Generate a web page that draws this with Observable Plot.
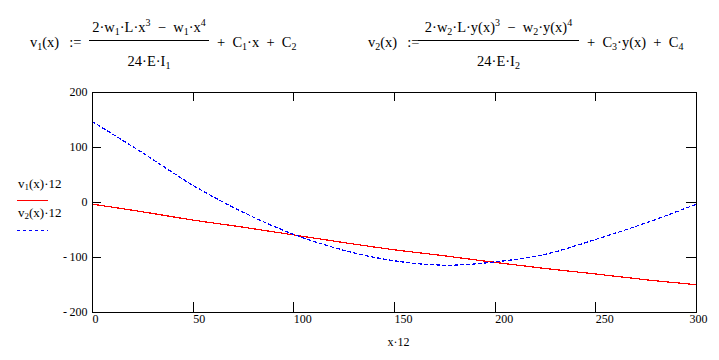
<!DOCTYPE html>
<html><head><meta charset="utf-8">
<script src="https://cdn.jsdelivr.net/npm/d3@7"></script>
<script src="https://cdn.jsdelivr.net/npm/@observablehq/plot@0.6"></script>
<style>
body{margin:0;background:#fff;width:719px;height:360px;overflow:hidden;position:relative;font-family:"Liberation Serif","Times New Roman",serif;color:#000}
.t{position:absolute;white-space:nowrap;font-size:14.5px;line-height:14px}
.s{font-size:10px;position:relative;top:3px}
.p{font-size:10px;position:relative;top:-6px}
.frac{position:absolute;border-top:1px solid #000;height:0}
.num,.den{position:absolute;left:-20px;right:-20px;text-align:center;white-space:nowrap;font-size:14.5px;line-height:14px}
#chart{position:absolute;left:0;top:80px}
.lg{position:absolute;font-size:13px;line-height:13px;white-space:nowrap}
.lg .s{font-size:9px;top:2px}
.sw{position:absolute;left:17px;width:31px;height:3px}
svg{shape-rendering:crispEdges}
</style></head><body>
<div class="t" style="left:30px;top:35px">v<span class="s">1</span>(x)&ensp;&thinsp;:=</div>
<div class="frac" style="left:89px;top:40px;width:120px">
  <div class="num" style="top:-21px">2·w<span class="s">1</span>·L·x<span class="p">3</span>&ensp;−&ensp;w<span class="s">1</span>·x<span class="p">4</span></div>
  <div class="den" style="top:13px">24·E·I<span class="s">1</span></div>
</div>
<div class="t" style="left:217px;top:35px">+&ensp;C<span class="s">1</span>·x&ensp;+&ensp;C<span class="s">2</span></div>

<div class="t" style="left:368px;top:35px">v<span class="s">2</span>(x)&ensp;&thinsp;:=</div>
<div class="frac" style="left:418px;top:40px;width:161px">
  <div class="num" style="top:-21px">2·w<span class="s">2</span>·L·y(x)<span class="p">3</span>&ensp;−&ensp;w<span class="s">2</span>·y(x)<span class="p">4</span></div>
  <div class="den" style="top:13px">24·E·I<span class="s">2</span></div>
</div>
<div class="t" style="left:587px;top:35px">+&ensp;C<span class="s">3</span>·y(x)&ensp;+&ensp;C<span class="s">4</span></div>

<div id="chart"></div>

<div class="lg" style="left:18px;top:177px">v<span class="s">1</span>(x)·12</div>
<svg class="sw" style="top:199px"><line x1="0" x2="31" y1="1.5" y2="1.5" stroke="#ff0000" stroke-width="1"/></svg>
<div class="lg" style="left:18px;top:206px">v<span class="s">2</span>(x)·12</div>
<svg class="sw" style="top:229px"><line x1="0" x2="31" y1="1.5" y2="1.5" stroke="#0000ff" stroke-width="1" stroke-dasharray="3,3"/></svg>

<script>
const xVals  = [0, 25, 50, 75, 100, 125, 150, 175, 200, 225, 250, 275, 300];
const v1Vals = [-3, -17, -32, -45, -59, -73, -86, -97, -109, -120, -130, -140.5, -149.5];
const v2Vals = [147, 90, 31, -18, -58, -87, -106, -114, -108, -94, -67, -37, -3];
const xTicks = [0, 50, 100, 150, 200, 250, 300];
const yTicks = [-200, -100, 0, 100, 200];
const innerX = [50, 100, 150, 200, 250];
const innerY = [-100, 0, 100, 200];
const xLabel = "x·12";

const fmt = d => d < 0 ? "-\u2009" + (-d) : String(d);

const chart = Plot.plot({
  width: 719, height: 280,
  marginLeft: 92, marginRight: 23, marginTop: 12, marginBottom: 48,
  x: {domain: [0, 300], axis: null},
  y: {domain: [-200, 200], axis: null},
  style: {fontFamily: "'Liberation Serif','Times New Roman',serif", fontSize: "12px", color: "#000", background: "#fff", overflow: "visible"},
  marks: [
    Plot.line(xVals, {x: xVals, y: v1Vals, stroke: "#ff0000", strokeWidth: 1.2, curve: "catmull-rom"}),
    Plot.line(xVals, {x: xVals, y: v2Vals, stroke: "#0000ff", strokeWidth: 1.2, strokeDasharray: "3,3", curve: "catmull-rom"}),
    Plot.frame({stroke: "#000", strokeWidth: 1.3}),
    Plot.tickY(innerY, {y: d => d, insetRight: 595, stroke: "#000", strokeWidth: 1.3}),
    Plot.tickY(innerY, {y: d => d, insetLeft: 594, stroke: "#000", strokeWidth: 1.3}),
    Plot.tickX(innerX, {x: d => d, insetTop: 210, stroke: "#000", strokeWidth: 1.3}),
    Plot.tickX(innerX, {x: d => d, insetBottom: 211, stroke: "#000", strokeWidth: 1.3}),
    Plot.text(yTicks, {y: d => d, frameAnchor: "left", textAnchor: "end", dx: -5, text: fmt, fill: "#000"}),
    Plot.text(xTicks.slice(0, -1), {x: d => d, frameAnchor: "bottom", textAnchor: "start", dy: 10.5, text: fmt, fill: "#000"}),
    Plot.text(xTicks.slice(-1), {x: d => d, frameAnchor: "bottom", textAnchor: "middle", dx: 2, dy: 10.5, text: fmt, fill: "#000"}),
    Plot.text([xLabel], {frameAnchor: "bottom", dy: 33.5, dx: 4, text: d => d, fill: "#000"})
  ]
});
document.getElementById("chart").appendChild(chart);
</script>
</body></html>
